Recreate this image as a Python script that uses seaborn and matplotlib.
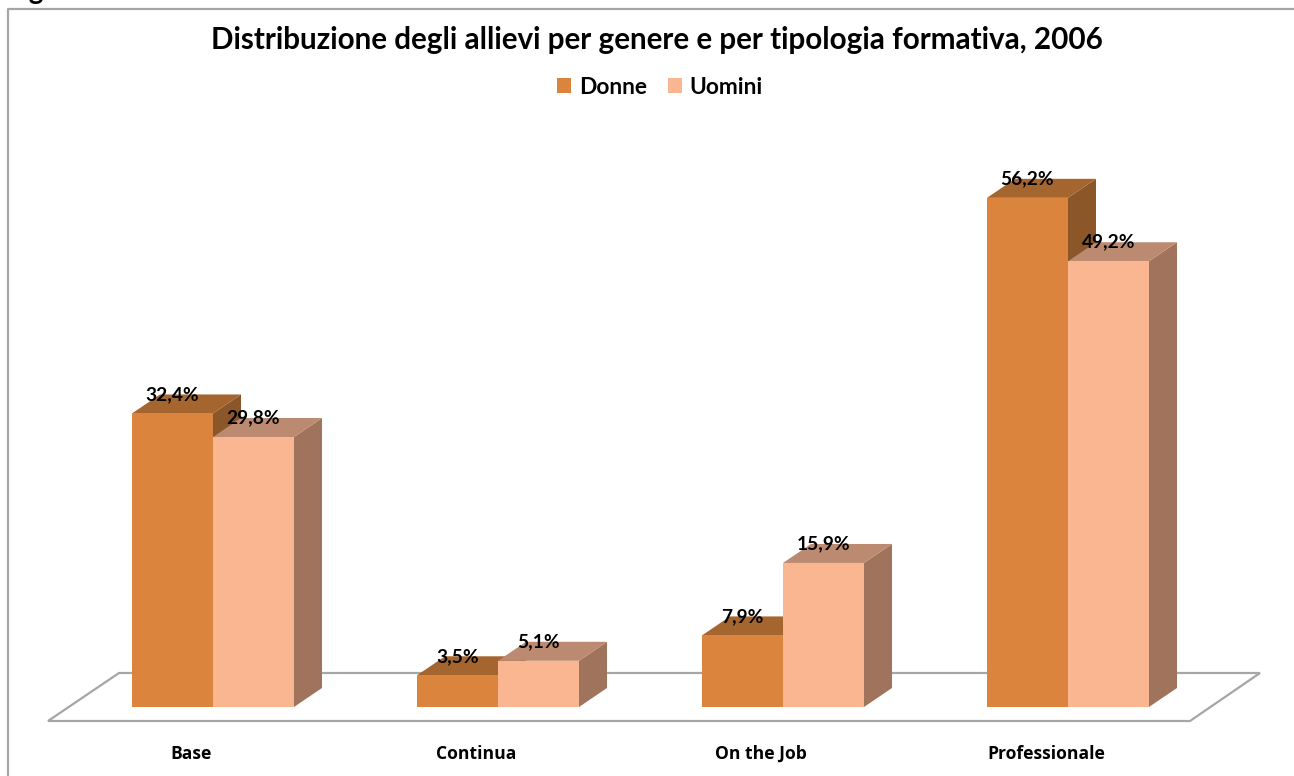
import numpy as np
import pandas as pd
import matplotlib
matplotlib.use("Agg")
import matplotlib.pyplot as plt
from matplotlib.lines import Line2D
from matplotlib.patches import Polygon
import seaborn as sns

categories = ["Base", "Continua", "On the Job", "Professionale"]
donne = [32.4, 3.5, 7.9, 56.2]
uomini = [29.8, 5.1, 15.9, 49.2]
series_names = ["Donne", "Uomini"]
title = "Distribuzione degli allievi per genere e per tipologia formativa, 2006"

front_colors = ["#DB843D", "#FAB591"]
top_colors = ["#A5652F", "#BC8A70"]
side_colors = ["#8B5628", "#A0745C"]
grey = "#A6A6A6"

W, H = 1294, 776
PX_PER_CAT = 285.0
PX_PER_UNIT = 9.06
X0_PX, Y0_PX = 213.0, 707.0   # first group centre, baseline
DEPTH_X, DEPTH_Y = 28 / PX_PER_CAT, 19 / PX_PER_UNIT


def to_x(px):
    return (px - X0_PX) / PX_PER_CAT


def to_y(py):
    return (Y0_PX - py) / PX_PER_UNIT


sns.set_theme(style="white")
plt.rcParams["font.family"] = ["Lato", "DejaVu Sans"]

df = pd.DataFrame({
    "categoria": categories * 2,
    "genere": [series_names[0]] * 4 + [series_names[1]] * 4,
    "valore": donne + uomini,
})

fig = plt.figure(figsize=(W / 100, H / 100), dpi=100)
ax = fig.add_axes([0, (H - 721) / H, 1, (721 - 9) / H])
ax.patch.set_alpha(0)

sns.barplot(data=df, x="categoria", y="valore", hue="genere", order=categories,
            hue_order=series_names, palette=front_colors, width=162 / PX_PER_CAT,
            gap=0, saturation=1, linewidth=0, ax=ax, zorder=3)

ax.set_xlim(to_x(0), to_x(W))
ax.set_ylim(to_y(721), to_y(9))
ax.set_xlabel("")
ax.set_ylabel("")
ax.set_yticks([])
for s in ax.spines.values():
    s.set_visible(False)

# floor of the 3D chart
floor = [(to_x(48), to_y(721)), (to_x(119), to_y(673)), (to_x(1260), to_y(673)), (to_x(1190), to_y(721))]
ax.add_patch(Polygon(floor, closed=True, fc="white", ec=grey, lw=1.6, zorder=1, clip_on=False))

# depth faces and labels for every bar
for k, cont in enumerate(ax.containers):
    for n, bar in enumerate(cont):
        x1, w, h = bar.get_x(), bar.get_width(), bar.get_height()
        x2 = x1 + w
        top = [(x1, h), (x2, h), (x2 + DEPTH_X, h + DEPTH_Y), (x1 + DEPTH_X, h + DEPTH_Y)]
        side = [(x2, 0), (x2 + DEPTH_X, DEPTH_Y), (x2 + DEPTH_X, h + DEPTH_Y), (x2, h)]
        ax.add_patch(Polygon(side, closed=True, fc=side_colors[k], ec="none", zorder=2 + k * 0.5))
        ax.add_patch(Polygon(top, closed=True, fc=top_colors[k], ec="none", zorder=2 + k * 0.5))
        bar.set_zorder(3 + k * 0.5)
        ax.text(x1 + w / 2, h + DEPTH_Y, f"{h:.1f}%".replace(".", ","), ha="center", va="center",
                fontsize=13.8, fontweight="bold", color="black", zorder=6)

ax.set_xticks(np.arange(4) - 22 / PX_PER_CAT, categories)
ax.tick_params(axis="x", length=0, pad=17)
for lab in ax.get_xticklabels():
    lab.set_fontfamily(["Open Sans", "DejaVu Sans"])
    lab.set_fontsize(12.6)
    lab.set_fontweight("bold")
    lab.set_color("black")

sns.move_legend(ax, "center", bbox_to_anchor=(660 / W, (721 - 87) / (721 - 9)), ncols=2, title=None,
                frameon=False, handlelength=0.62, handleheight=0.62, handletextpad=0.35,
                columnspacing=0.9, fontsize=16.4)
for t in ax.get_legend().get_texts():
    t.set_fontweight("bold")
    t.set_color("black")

fig.suptitle(title, x=657 / W, y=1 - 40 / H, ha="center", va="center",
             fontsize=21.3, fontweight="bold", color="black")

# chart frame: only top and left edges show, the rest is cropped
fig.add_artist(Line2D([8 / W, 8 / W, 1], [0, 1 - 9 / H, 1 - 9 / H], color=grey, lw=1.6))
# caption above the frame, cropped by the image edge
fig.text(44 / W, 1 + 1.5 / H, "Fig", ha="right", va="baseline", fontsize=20, fontweight="bold", color="black")

fig.savefig("out.png", dpi=100)
